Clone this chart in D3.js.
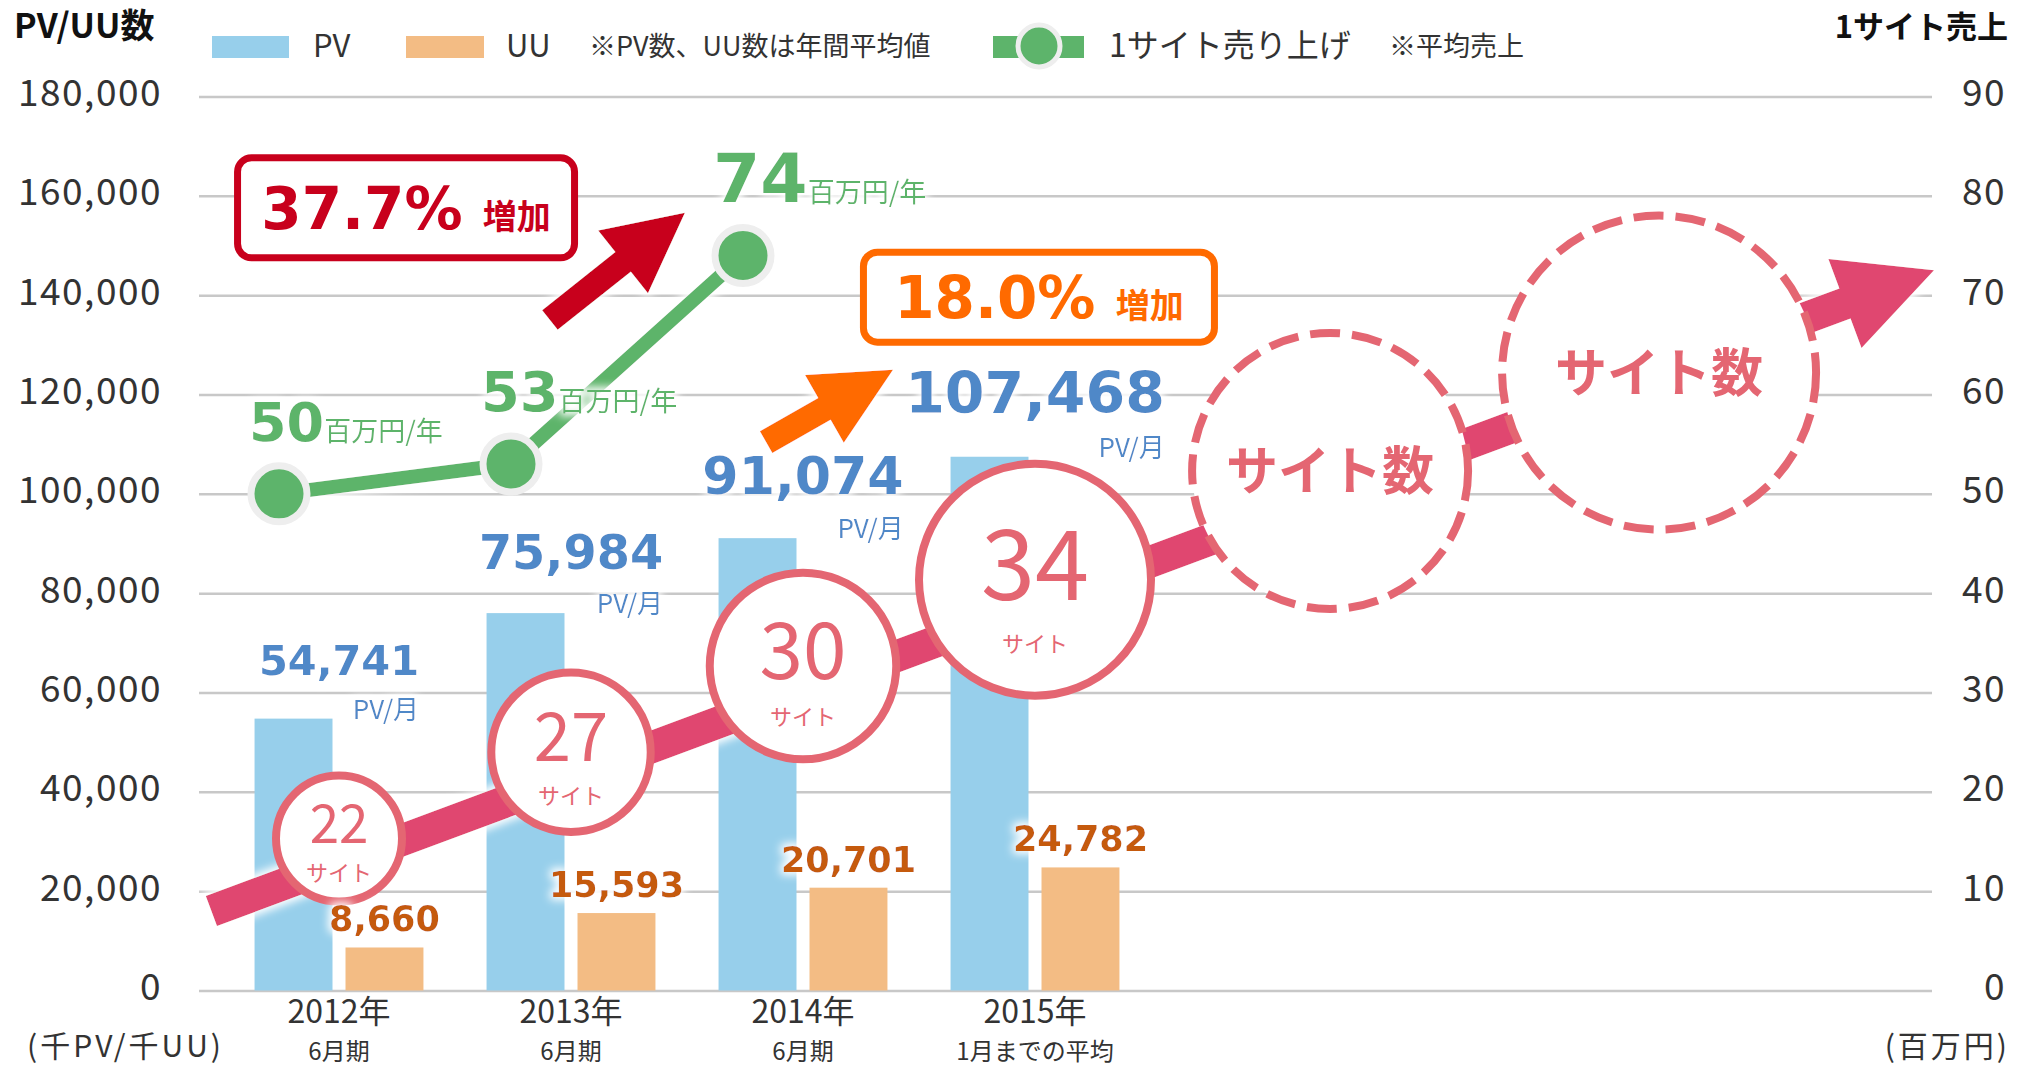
<!DOCTYPE html>
<html>
<head>
<meta charset="utf-8">
<script src="https://cdn.jsdelivr.net/npm/d3@7"></script>
<style>
body { margin: 0; background: #fff; }
svg text { font-family: "Noto Sans CJK JP", "Noto Sans", sans-serif; }
</style>
</head>
<body>
<div id="chart"></div>
<script>
// chart data
const categories = ["2012年", "2013年", "2014年", "2015年"];
const subLabels = ["6月期", "6月期", "6月期", "1月までの平均"];
const pvValues = [54741, 75984, 91074, 107468];   // 千PV / 月
const uuValues = [8660, 15593, 20701, 24782];     // 千UU
const salesValues = [50, 53, 74];                 // 百万円/年 (1サイト平均)
const siteCounts = [22, 27, 30, 34];
const growthLabels = ["37.7%", "18.0%"];
const leftTicks = [0, 20000, 40000, 60000, 80000, 100000, 120000, 140000, 160000, 180000];
const rightTicks = [0, 10, 20, 30, 40, 50, 60, 70, 80, 90];

const width = 2017, height = 1067;
const plot = {left: 199, right: 1932, top: 96.5, bottom: 990.5};

const green = "#5db46b", pvColor = "#97cfeb", uuColor = "#f3bc84";
const pink = "#e0476f", circleColor = "#e46672";

const svg = d3.select("#chart").append("svg")
	.attr("width", width)
	.attr("height", height);

// white halo used by the arrows and the labels
const glow = svg.append("defs").append("filter")
	.attr("id", "glow").attr("x", "-30%").attr("y", "-30%").attr("width", "160%").attr("height", "160%");
glow.append("feMorphology").attr("in", "SourceAlpha").attr("operator", "dilate").attr("radius", 3).attr("result", "d");
glow.append("feGaussianBlur").attr("in", "d").attr("stdDeviation", 4).attr("result", "b");
glow.append("feFlood").attr("flood-color", "#fff");
glow.append("feComposite").attr("in2", "b").attr("operator", "in").attr("result", "g");
const merge = glow.append("feMerge");
merge.append("feMergeNode").attr("in", "g");
merge.append("feMergeNode").attr("in", "SourceGraphic");

const yL = d3.scaleLinear().domain([0, 180000]).range([plot.bottom, plot.top]);
const yR = d3.scaleLinear().domain([0, 90]).range([plot.bottom, plot.top]);
const x0 = d3.scaleBand().domain(categories).range([223, 1151]).paddingInner(0.272).paddingOuter(0.136);
const x1 = d3.scaleBand().domain(["PV", "UU"]).range([0, x0.bandwidth()]).paddingInner(0.143);
// continuous version of the category axis, for the annotations
const xi = d3.scaleLinear().domain([0, categories.length]).range(x0.range());
const cx = c => x0(c) + x0.bandwidth() / 2;

// gridlines
svg.append("g")
	.attr("transform", `translate(${plot.left},0)`)
	.call(d3.axisRight(yL).tickValues(leftTicks).tickSize(plot.right - plot.left).tickFormat(""))
	.call(g => g.select(".domain").remove())
	.selectAll("line")
	.attr("stroke", "#c8c8c8")
	.attr("stroke-width", 2.5);

// left axis labels
svg.append("g")
	.attr("transform", "translate(162,0)")
	.call(d3.axisLeft(yL).tickValues(leftTicks).tickSize(0).tickPadding(0).tickFormat(d3.format(",")))
	.call(g => g.select(".domain").remove())
	.selectAll("text")
	.attr("font-size", 37)
	.attr("letter-spacing", 1.5)
	.attr("fill", "#333")
	.attr("dy", "0.24em");

// right axis labels
svg.append("g")
	.attr("transform", "translate(2006,0)")
	.call(d3.axisLeft(yR).tickValues(rightTicks).tickSize(0).tickPadding(0))
	.call(g => g.select(".domain").remove())
	.selectAll("text")
	.attr("font-size", 37)
	.attr("letter-spacing", 1.5)
	.attr("fill", "#333")
	.attr("dy", "0.24em");

// bars
const rows = categories.map((c, i) => ({cat: c, sub: subLabels[i], pv: pvValues[i], uu: uuValues[i], sites: siteCounts[i]}));

const groups = svg.append("g").selectAll("g").data(rows).join("g")
	.attr("transform", d => `translate(${x0(d.cat)},0)`);

groups.append("rect")
	.attr("x", x1("PV"))
	.attr("width", x1.bandwidth())
	.attr("y", d => yL(d.pv))
	.attr("height", d => yL(0) - yL(d.pv))
	.attr("fill", pvColor);

groups.append("rect")
	.attr("x", x1("UU"))
	.attr("width", x1.bandwidth())
	.attr("y", d => yL(d.uu))
	.attr("height", d => yL(0) - yL(d.uu))
	.attr("fill", uuColor);

// category labels
svg.append("g").selectAll("text").data(rows).join("text")
	.attr("x", d => cx(d.cat))
	.attr("y", 1023)
	.attr("text-anchor", "middle")
	.attr("font-size", 32)
	.attr("fill", "#333")
	.text(d => d.cat);
svg.append("g").selectAll("text").data(rows).join("text")
	.attr("x", d => cx(d.cat))
	.attr("y", 1060)
	.attr("text-anchor", "middle")
	.attr("font-size", 24)
	.attr("fill", "#333")
	.text(d => d.sub);

svg.append("text").attr("x", 27).attr("y", 1057).attr("font-size", 30).attr("fill", "#333")
	.attr("letter-spacing", 3).text("(千PV/千UU)");
svg.append("text").attr("x", 2010).attr("y", 1057).attr("font-size", 30).attr("fill", "#333")
	.attr("text-anchor", "end").attr("letter-spacing", 3).text("(百万円)");

// arrow polygon helper
function arrowPath(ax, ay, bx, by, shaft, headW, headL) {
	const len = Math.hypot(bx - ax, by - ay);
	const ux = (bx - ax) / len, uy = (by - ay) / len;
	const nx = -uy, ny = ux;
	const hx = bx - ux * headL, hy = by - uy * headL;
	const pts = [
		[ax + nx * shaft / 2, ay + ny * shaft / 2],
		[hx + nx * shaft / 2, hy + ny * shaft / 2],
		[hx + nx * headW / 2, hy + ny * headW / 2],
		[bx, by],
		[hx - nx * headW / 2, hy - ny * headW / 2],
		[hx - nx * shaft / 2, hy - ny * shaft / 2],
		[ax - nx * shaft / 2, ay - ny * shaft / 2]
	];
	return d3.line()(pts) + "Z";
}

// site count trend arrow
const trend = {x0: xi(-0.05), y0: yR(8), x1: xi(7.375), y1: yR(72.5)};
const trendY = x => trend.y0 + (x - trend.x0) * (trend.y1 - trend.y0) / (trend.x1 - trend.x0);

svg.append("path")
	.attr("d", arrowPath(trend.x0, trend.y0, trend.x1, trend.y1, 32, 95, 95))
	.attr("fill", pink)
	.attr("filter", "url(#glow)");

// site count circles
const rScale = d3.scalePow().exponent(3).domain(d3.extent(siteCounts)).range([63, 116]);
const siteG = svg.append("g").selectAll("g").data(rows).join("g")
	.attr("transform", d => `translate(${cx(d.cat)},${trendY(cx(d.cat)) - 25})`);

siteG.append("circle")
	.attr("r", d => rScale(d.sites))
	.attr("fill", "#fff")
	.attr("stroke", circleColor)
	.attr("stroke-width", 8);

siteG.append("text")
	.attr("text-anchor", "middle")
	.attr("fill", circleColor)
	.attr("font-size", d => rScale(d.sites) * 0.84)
	.attr("y", d => -15 + rScale(d.sites) * 0.84 * 0.36)
	.text(d => d.sites);

siteG.append("text")
	.attr("text-anchor", "middle")
	.attr("fill", circleColor)
	.attr("font-size", 22)
	.attr("y", d => rScale(d.sites) * 0.55 + 8)
	.text("サイト");

// future placeholders along the arrow
const future = [{u: 4.772, dy: -24, r: 138}, {u: 6.19, dy: 0, r: 157}];
const futureG = svg.append("g").selectAll("g").data(future).join("g")
	.attr("transform", d => `translate(${xi(d.u)},${trendY(xi(d.u)) + d.dy})`);
futureG.append("circle")
	.attr("r", d => d.r)
	.attr("fill", "#fff")
	.attr("stroke", circleColor)
	.attr("stroke-width", 8)
	.attr("stroke-dasharray", "30 12");
futureG.append("text")
	.attr("text-anchor", "middle")
	.attr("y", 19)
	.attr("font-size", 52)
	.attr("font-weight", "bold")
	.attr("fill", circleColor)
	.text("サイト数");

// 1サイト売上 line
const sx = i => cx(categories[i]) - 60;
svg.append("path")
	.datum(salesValues)
	.attr("d", d3.line().x((d, i) => sx(i)).y(d => yR(d)))
	.attr("fill", "none")
	.attr("stroke", green)
	.attr("stroke-width", 14)
	.attr("filter", "url(#glow)");

svg.append("g").selectAll("circle").data(salesValues).join("circle")
	.attr("cx", (d, i) => sx(i))
	.attr("cy", d => yR(d))
	.attr("r", 28)
	.attr("fill", green)
	.attr("stroke", "#eeeeee")
	.attr("stroke-width", 7);

const salesFont = d3.scaleLinear().domain(d3.extent(salesValues)).range([54, 68]);
const salesText = svg.append("g").selectAll("text").data(salesValues).join("text")
	.attr("x", (d, i) => sx(i) - 30)
	.attr("y", d => yR(d) - 53)
	.attr("fill", green)
	.attr("filter", "url(#glow)");
salesText.append("tspan")
	.attr("font-family", "DejaVu Sans")
	.attr("font-weight", "bold")
	.attr("font-size", d => salesFont(d))
	.text(d => d);
salesText.append("tspan")
	.attr("font-size", 27)
	.text("百万円/年");

// PV value labels
const pvFont = d3.scaleLinear().domain(d3.extent(pvValues)).range([41.5, 57]);
const pvText = svg.append("g").selectAll("text").data(rows).join("text")
	.attr("x", d => cx(d.cat))
	.attr("y", d => yL(d.pv) - 44)
	.attr("text-anchor", "middle")
	.style("font-family", "DejaVu Sans")
	.attr("font-weight", "bold")
	.attr("font-size", d => pvFont(d.pv))
	.attr("fill", "#4f88c8")
	.attr("filter", "url(#glow)")
	.text(d => d3.format(",")(d.pv));

svg.append("g").selectAll("text").data(rows).join("text")
	.attr("x", (d, i) => cx(d.cat) + pvText.nodes()[i].getComputedTextLength() / 2)
	.attr("y", d => yL(d.pv))
	.attr("text-anchor", "end")
	.attr("font-size", 26)
	.attr("fill", "#4f88c8")
	.attr("filter", "url(#glow)")
	.text("PV/月");

// UU value labels
svg.append("g").selectAll("text").data(rows).join("text")
	.attr("x", d => x0(d.cat) + x1("UU") + x1.bandwidth() / 2)
	.attr("y", d => yL(d.uu) - 16)
	.attr("text-anchor", "middle")
	.style("font-family", "DejaVu Sans")
	.attr("font-weight", "bold")
	.attr("font-size", 35)
	.attr("fill", "#c55a11")
	.attr("filter", "url(#glow)")
	.text(d => d3.format(",")(d.uu));

// growth boxes and arrows
const boxes = [
	{label: growthLabels[0], u: 0.789, v: 78.8, w: 337, h: 100, color: "#c8001c",
	 arrow: {u0: 1.409, v0: 67.5, u1: 1.991, v1: 78.3, headW: 80}},
	{label: growthLabels[1], u: 3.517, v: 69.8, w: 351, h: 90, color: "#ff6a00",
	 arrow: {u0: 2.341, v0: 55.2, u1: 2.888, v1: 62.5, headW: 78}}
];

boxes.forEach(b => {
	const bx = xi(b.u), by = yR(b.v);
	svg.append("rect")
		.attr("x", bx - b.w / 2).attr("y", by - b.h / 2)
		.attr("width", b.w).attr("height", b.h)
		.attr("rx", 14)
		.attr("fill", "#fff")
		.attr("stroke", b.color)
		.attr("stroke-width", 7);
	const t = svg.append("text")
		.attr("x", bx)
		.attr("y", by + 21)
		.attr("text-anchor", "middle")
		.attr("fill", b.color);
	t.append("tspan").attr("font-family", "DejaVu Sans").attr("font-weight", "bold").attr("font-size", 58).text(b.label + " ");
	t.append("tspan").attr("font-weight", "bold").attr("font-size", 34).text("増加");

	svg.append("path")
		.attr("d", arrowPath(xi(b.arrow.u0), yR(b.arrow.v0), xi(b.arrow.u1), yR(b.arrow.v1), 25, b.arrow.headW, 79))
		.attr("fill", b.color)
		.attr("filter", "url(#glow)");
});

// titles
svg.append("text").attr("x", 14).attr("y", 38).attr("font-size", 34).attr("font-weight", "bold")
	.attr("fill", "#111").text("PV/UU数");
svg.append("text").attr("x", 2008).attr("y", 38).attr("font-size", 31).attr("font-weight", "bold")
	.attr("fill", "#111").attr("text-anchor", "end").text("1サイト売上");

// legend
const legend = svg.append("g");
legend.append("rect").attr("x", 212).attr("y", 36).attr("width", 77).attr("height", 22).attr("fill", pvColor);
legend.append("text").attr("x", 313).attr("y", 57).attr("font-size", 31).attr("fill", "#333").text("PV");
legend.append("rect").attr("x", 406).attr("y", 36).attr("width", 78).attr("height", 22).attr("fill", uuColor);
legend.append("text").attr("x", 506).attr("y", 57).attr("font-size", 31).attr("fill", "#333").text("UU");
legend.append("text").attr("x", 589).attr("y", 56).attr("font-size", 27).attr("fill", "#333").text("※PV数、UU数は年間平均値");
legend.append("rect").attr("x", 993).attr("y", 36).attr("width", 91).attr("height", 22).attr("fill", green);
legend.append("circle").attr("cx", 1039).attr("cy", 46).attr("r", 21).attr("fill", green)
	.attr("stroke", "#eeeeee").attr("stroke-width", 5);
legend.append("text").attr("x", 1109).attr("y", 57).attr("font-size", 32).attr("fill", "#333").text("1サイト売り上げ");
legend.append("text").attr("x", 1389).attr("y", 56).attr("font-size", 27).attr("fill", "#333").text("※平均売上");
</script>
</body>
</html>
